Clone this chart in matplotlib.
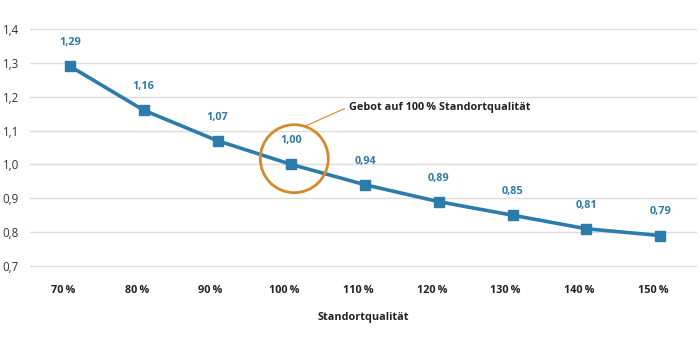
import matplotlib
matplotlib.use("Agg")
import matplotlib.pyplot as plt
import matplotlib.transforms as mtransforms
from matplotlib.patches import Ellipse

plt.rcParams['font.family'] = ['Open Sans', 'DejaVu Sans']

# Data
categories = ["70\u2009%", "80\u2009%", "90\u2009%", "100\u2009%", "110\u2009%",
              "120\u2009%", "130\u2009%", "140\u2009%", "150\u2009%"]
factors = [1.29, 1.16, 1.07, 1.00, 0.94, 0.89, 0.85, 0.81, 0.79]
y_ticks = [0.7, 0.8, 0.9, 1.0, 1.1, 1.2, 1.3, 1.4]

line_color = "#2b7bab"
label_color = "#2f7aa8"
ring_color = "#d48a2a"

fig = plt.figure(figsize=(7.0, 3.39), dpi=100)
ax = fig.add_axes([30 / 700, 1 - 269.4 / 339, 667 / 700, 243.8 / 339])

x = list(range(len(factors)))
ax.plot(x, factors, color=line_color, linewidth=2.6, marker="s",
        markersize=6.5, zorder=3, clip_on=False)

for xi, v in zip(x, factors):
    ax.annotate(f"{v:.2f}".replace(".", ","), (xi, v), xytext=(0, 17),
                textcoords="offset points", ha="center", va="center",
                fontsize=7.8, fontweight="bold", color=label_color)

ax.set_xlim(-0.542, 8.50)
ax.set_ylim(0.69, 1.41)
ax.set_yticks(y_ticks)
ax.set_yticklabels([f"{t:.1f}".replace(".", ",") for t in y_ticks])
ax.set_xticks(x)
ax.set_xticklabels(categories, fontweight="bold")

ax.grid(axis="y", color="#dcdcdc", linewidth=1.0)
ax.set_axisbelow(True)
for s in ax.spines.values():
    s.set_visible(False)
ax.tick_params(axis="y", length=0, pad=8, labelsize=8.3, labelcolor="#333333")
ax.tick_params(axis="x", length=0, pad=11, labelsize=7.8, labelcolor="#222222")
for lbl in ax.get_xticklabels():
    lbl.set_transform(lbl.get_transform() + mtransforms.ScaledTranslation(-7 / 100, 0, fig.dpi_scale_trans))

ax.set_xlabel("Standortqualität", fontsize=7.8, fontweight="bold",
              color="#222222", labelpad=12)

# Highlight ring around the 100 % point
px_per_x = 667 / 9.042
px_per_y = 243.8 / 0.72
r = 34
cx, cy = 3 + 3 / px_per_x, 1.017
ring = Ellipse((cx, cy), width=2 * r / px_per_x, height=2 * r / px_per_y,
               fill=False, edgecolor=ring_color, linewidth=2.0, zorder=4)
ax.add_patch(ring)
ax.plot([cx + 12 / px_per_x, cx + 50 / px_per_x],
        [cy + 33 / px_per_y, cy + 50 / px_per_y],
        color=ring_color, linewidth=0.8, zorder=4)
ax.text(cx + 55 / px_per_x, cy + 51 / px_per_y, "Gebot auf 100\u2009% Standortqualität",
        fontsize=7.8, fontweight="bold", color="#222222", ha="left", va="center")

fig.savefig("out.png", dpi=100)
